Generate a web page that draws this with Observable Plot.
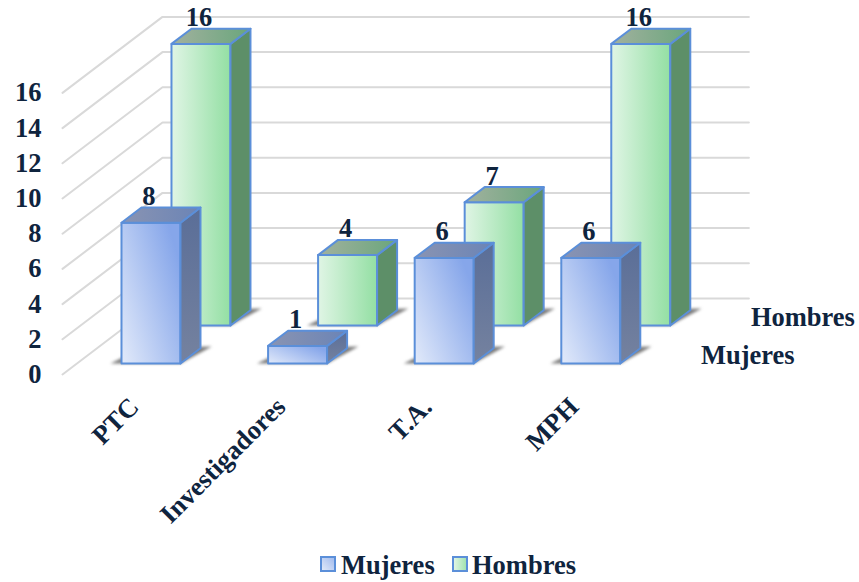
<!DOCTYPE html>
<html>
<head>
<meta charset="utf-8">
<script src="https://cdn.jsdelivr.net/npm/d3@7"></script>
<script src="https://cdn.jsdelivr.net/npm/@observablehq/plot@0.6"></script>
<style>
  html, body { margin: 0; padding: 0; background: #fff; }
  svg { display: block; }
  #legend { position: relative; height: 52px; font: bold 26.5px "Liberation Serif", serif; color: #0f243e; }
  #legend span { position: absolute; top: 20px; line-height: 30px; }
  #legend i { position: absolute; top: 26px; width: 12px; height: 12px; border: 2px solid #5b8fd9; }
</style>
</head>
<body>
<div id="chart"></div>
<div id="legend">
  <i style="left:320px;background:linear-gradient(45deg,#dfe8f8,#a3bcee)"></i><span style="left:341px">Mujeres</span>
  <i style="left:452px;background:linear-gradient(90deg,#dff5e3,#a3e3b0)"></i><span style="left:472px">Hombres</span>
</div>
<script>
const categories = ["PTC", "Investigadores", "T.A.", "MPH"];
const mujeres = [8, 1, 6, 6];
const hombres = [16, 4, 7, 16];
const seriesNames = ["Mujeres", "Hombres"];
const yTicks = [0, 2, 4, 6, 8, 10, 12, 14, 16];

// oblique projection: one series slot of depth shifts a point right and up
const slotDx = 0.341;  // category units per depth slot
const slotDy = 2.159;  // value units per depth slot
const gapX = 0.3035, barW = 0.4025, gapD = 0.29, barD = 0.40;
const project = (cat, value, depth) => ({x: cat + depth * slotDx, y: value + depth * slotDy});

function boxFaces(values, slot) {
  const front = [], side = [], top = [], shadow = [];
  values.forEach((v, i) => {
    const x0 = i + gapX, x1 = x0 + barW, d0 = slot + gapD, d1 = d0 + barD;
    const poly = (arr, pts) => pts.forEach(p => arr.push({...project(...p), k: i}));
    poly(front, [[x0, 0, d0], [x1, 0, d0], [x1, v, d0], [x0, v, d0]]);
    poly(side, [[x1, 0, d0], [x1, 0, d1], [x1, v, d1], [x1, v, d0]]);
    poly(top, [[x0, v, d0], [x1, v, d0], [x1, v, d1], [x0, v, d1]]);
    poly(shadow, [[x0 - 0.075, 0, d0], [x1, 0, d0], [x1 + 0.06, 0, d1 + 0.05], [x0, 0, d1]]);
  });
  return {front, side, top, shadow};
}
const grid = yTicks.flatMap(v => [
  {...project(0, v, 0), v}, {...project(0, v, 2), v}, {...project(categories.length, v, 2), v}
]);
const M = boxFaces(mujeres, 0), H = boxFaces(hombres, 1);
const edge = "#5b8fd9";
const face = (pts, fill) => Plot.line(pts, {x: "x", y: "y", z: "k", curve: "linear-closed", fill, stroke: edge, strokeWidth: 2, strokeLinejoin: "round"});
const shadow = pts => Plot.line(pts, {x: "x", y: "y", z: "k", curve: "linear-closed", fill: "#444", fillOpacity: 0.7, stroke: "none", imageFilter: "blur(1.5px)"});
const labels = (values, slot) => values.map((v, i) => ({
  x: project(i + gapX + barW / 2, v, slot + gapD).x,
  y: project(i + gapX + barW / 2, v, slot + gapD + barD).y,
  v
}));
const txt = {fontFamily: "Liberation Serif, serif", fontWeight: "bold", fontSize: 26.5, fill: "#0f243e"};
const grad = (id, x1, y1, x2, y2, a, b) =>
  `<linearGradient id="${id}" x1="${x1}" y1="${y1}" x2="${x2}" y2="${y2}"><stop offset="0" stop-color="${a}"/><stop offset="1" stop-color="${b}"/></linearGradient>`;
const defs = () => {
  const g = d3.create("svg:defs");
  g.html(
    grad("mF", 0, 1, 1, 0.3, "#e2eafa", "#86a6ea") +
    grad("mS", 0, 0, 0, 1, "#5a6e98", "#75829f") +
    grad("mT", 0, 0.5, 1, 0.5, "#8a94b2", "#6b84b6") +
    grad("hF", 0, 0, 1, 0, "#e0f5e5", "#93dfa3") +
    grad("hT", 0, 0.5, 1, 0.5, "#a2b19f", "#6aa67c")
  );
  return g.node();
};

const chart = Plot.plot({
  width: 859, height: 530,
  marginLeft: 62, marginRight: 64.0, marginTop: 4.4, marginBottom: 156,
  x: {domain: [0, 5], axis: null},
  y: {domain: [0, 21], axis: null},
  style: {background: "transparent", overflow: "visible"},
  marks: [
    defs,
    Plot.line(grid, {x: "x", y: "y", z: "v", stroke: "#d9d9d9", strokeWidth: 2}),
    Plot.axisY({ticks: yTicks, tickSize: 0, tickPadding: 21, ...txt, label: null}),
    Plot.axisX({
      ticks: categories.map((c, i) => i + 0.49), tickFormat: d => categories[Math.floor(d)],
      tickSize: 0, tickRotate: -45, tickPadding: 28, textAnchor: "end", ...txt, label: null
    }),
    shadow(H.shadow),
    face(H.front, "url(#hF)"), face(H.side, "#5d8f68"), face(H.top, "url(#hT)"),
    shadow(M.shadow),
    face(M.front, "url(#mF)"), face(M.side, "url(#mS)"), face(M.top, "url(#mT)"),
    Plot.text(labels(hombres, 1), {x: "x", y: "y", text: "v", ...txt, lineAnchor: "bottom", dx: -2, dy: -2.5}),
    Plot.text(labels(mujeres, 0), {x: "x", y: "y", text: "v", ...txt, lineAnchor: "bottom", dx: -2, dy: -2.5}),
    Plot.text(seriesNames, {
      x: (d, i) => project(categories.length, 0, i + 0.5).x,
      y: (d, i) => project(categories.length, 0, i + 0.5).y,
      text: d => d, textAnchor: "start", dx: 27, ...txt
    })
  ]
});
document.getElementById("chart").appendChild(chart);
</script>
</body>
</html>
